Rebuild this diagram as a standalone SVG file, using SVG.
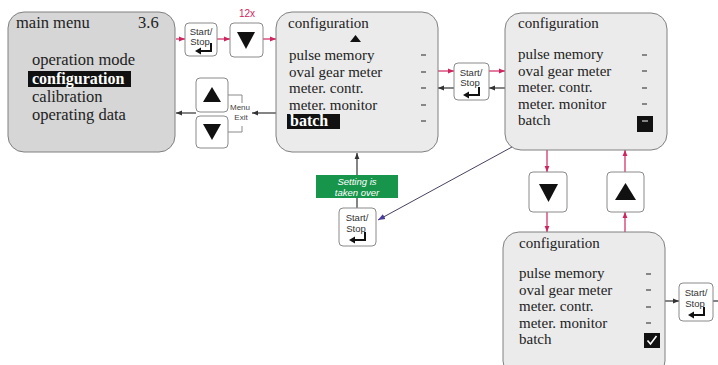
<svg xmlns="http://www.w3.org/2000/svg" xmlns:xlink="http://www.w3.org/1999/xlink" width="718" height="365" viewBox="0 0 718 365">
<style>
.main{fill:#d6d6d6;stroke:#808080;stroke-width:1}
.cfg{fill:#ebebeb;stroke:#808080;stroke-width:1}
.btn{fill:#ffffff;stroke:#8a8a8a;stroke-width:1}
.t{font-family:"Liberation Serif","Times New Roman",serif;font-size:15px;fill:#222}
.tm{font-family:"Liberation Serif","Times New Roman",serif;font-size:16.5px;fill:#222}
.tb{font-family:"Liberation Serif","Times New Roman",serif;font-size:16px;font-weight:bold;fill:#fff}
.bt{font-family:"Liberation Sans",Arial,sans-serif;font-size:9.5px;fill:#333;text-anchor:middle}
.me{font-family:"Liberation Sans",Arial,sans-serif;font-size:8px;fill:#444;text-anchor:middle}
.gt{font-family:"Liberation Sans",Arial,sans-serif;font-size:9.5px;font-style:italic;fill:#fff;text-anchor:middle}
.red{stroke:#d0245e;stroke-width:1.2;fill:none}
.blk{stroke:#333;stroke-width:1.2;fill:none}
.pur{stroke:#4a4060;stroke-width:1;fill:none}
.brk{stroke:#8a8a8a;stroke-width:1;fill:none}
.dash{stroke:#444;stroke-width:1.2}
</style>
<defs>
<marker id="ar" viewBox="0 0 10 10" refX="10" refY="5" markerWidth="6" markerHeight="6" orient="auto" markerUnits="userSpaceOnUse"><path d="M0,1 L10,5 L0,9 z" fill="#d0245e"/></marker>
<marker id="ab" viewBox="0 0 10 10" refX="10" refY="5" markerWidth="6" markerHeight="6" orient="auto" markerUnits="userSpaceOnUse"><path d="M0,1 L10,5 L0,9 z" fill="#333"/></marker>
<marker id="ap" viewBox="0 0 10 10" refX="10" refY="5" markerWidth="7" markerHeight="7" orient="auto" markerUnits="userSpaceOnUse"><path d="M0,1 L10,5 L0,9 z" fill="#4a3a9a"/></marker>
<g id="enter"><path d="M16,0 V8 H4" stroke="#111" stroke-width="2" fill="none"/><path d="M0,8 L6,4.5 L6,11.5 z" fill="#111"/></g>
</defs>

<g id="connectors">
<line class="red" x1="176" y1="39" x2="185" y2="39" marker-end="url(#ar)"/>
<line class="red" x1="217" y1="39" x2="230" y2="39" marker-end="url(#ar)"/>
<line class="red" x1="263" y1="39" x2="276" y2="39" marker-end="url(#ar)"/>
<line class="red" x1="438" y1="71" x2="454" y2="71" marker-end="url(#ar)"/>
<line class="red" x1="489" y1="71" x2="505" y2="71" marker-end="url(#ar)"/>
<line class="blk" x1="505" y1="88" x2="489" y2="88" marker-end="url(#ab)"/>
<line class="blk" x1="454" y1="88" x2="438" y2="88" marker-end="url(#ab)"/>
<line class="blk" x1="276" y1="113" x2="252" y2="113" marker-end="url(#ab)"/>
<line class="blk" x1="196" y1="113" x2="176" y2="113" marker-end="url(#ab)"/>
<path class="brk" d="M228,95 H242 V103 M228,132 H242 V126"/>
<line class="blk" x1="357" y1="208" x2="357" y2="153" marker-end="url(#ab)"/>
<line class="pur" x1="512" y1="147" x2="378" y2="220" marker-end="url(#ap)"/>
<line class="red" x1="547" y1="150" x2="547" y2="172" marker-end="url(#ar)"/>
<line class="red" x1="547" y1="212" x2="547" y2="232" marker-end="url(#ar)"/>
<line class="red" x1="625" y1="232" x2="625" y2="212" marker-end="url(#ar)"/>
<line class="red" x1="625" y1="172" x2="625" y2="150" marker-end="url(#ar)"/>
<line class="blk" x1="665" y1="301" x2="679" y2="301" marker-end="url(#ab)"/>
<line class="blk" x1="713" y1="301" x2="718" y2="301"/>
</g>

<g id="main-menu">
<rect class="main" x="8" y="12" width="167" height="140" rx="16"/>
<text class="tm" x="16" y="28">main menu</text>
<text class="tm" x="138" y="28">3.6</text>
<text class="tm" x="32" y="65">operation mode</text>
<rect x="28" y="71" width="103" height="16" fill="#111"/>
<text class="tb" x="32" y="84">configuration</text>
<text class="tm" x="32" y="102">calibration</text>
<text class="tm" x="32" y="120">operating data</text>
</g>

<g id="label-12x"><text x="247" y="17" font-family="Liberation Sans, Arial, sans-serif" font-size="10" fill="#d0245e" text-anchor="middle">12x</text></g>

<g id="btn-startstop-1">
<rect class="btn" x="185" y="23" width="32" height="33" rx="4"/>
<text class="bt" x="201" y="35">Start/</text>
<text class="bt" x="200" y="45">Stop</text>
<use xlink:href="#enter" x="195" y="43"/>
</g>

<g id="btn-down-1">
<rect class="btn" x="230" y="23" width="33" height="34" rx="4"/>
<path d="M237,32 H255 L246,49 z" fill="#111"/>
</g>

<g id="btn-up-left">
<rect class="btn" x="196" y="78" width="32" height="34" rx="4"/>
<path d="M203,102 H221 L212,87 z" fill="#111"/>
</g>
<g id="btn-down-left">
<rect class="btn" x="196" y="116" width="32" height="32" rx="4"/>
<path d="M203,124 H221 L212,140 z" fill="#111"/>
</g>
<g id="label-menu-exit">
<text class="me" x="240" y="110">Menu</text>
<text class="me" x="241" y="120">Exit</text>
</g>

<g id="config-1">
<rect class="cfg" x="276" y="12" width="162" height="140" rx="16"/>
<text class="t" x="288" y="28">configuration</text>
<path d="M350,42 H361 L355.5,35 z" fill="#111"/>
<text class="t" x="289" y="60">pulse memory</text>
<text class="t" x="289" y="76.5">oval gear meter</text>
<text class="t" x="289" y="93">meter. contr.</text>
<text class="t" x="289" y="109.5">meter. monitor</text>
<rect x="287" y="114" width="53" height="15" fill="#111"/>
<text class="tb" x="290" y="126">batch</text>
<g class="dash"><line x1="421" y1="55" x2="426" y2="55"/><line x1="421" y1="72" x2="426" y2="72"/><line x1="421" y1="88" x2="426" y2="88"/><line x1="421" y1="105" x2="426" y2="105"/><line x1="421" y1="121" x2="426" y2="121"/></g>
</g>

<g id="btn-startstop-2">
<rect class="btn" x="454" y="63" width="35" height="37" rx="4"/>
<text class="bt" x="471" y="76">Start/</text>
<text class="bt" x="470" y="86">Stop</text>
<use xlink:href="#enter" x="463" y="87"/>
</g>

<g id="config-2">
<rect class="cfg" x="505" y="13" width="162" height="137" rx="16"/>
<text class="t" x="518" y="28">configuration</text>
<text class="t" x="518" y="59">pulse memory</text>
<text class="t" x="518" y="75.5">oval gear meter</text>
<text class="t" x="518" y="92">meter. contr.</text>
<text class="t" x="518" y="108.5">meter. monitor</text>
<text class="t" x="518" y="125">batch</text>
<g class="dash"><line x1="642" y1="55" x2="647" y2="55"/><line x1="642" y1="71" x2="647" y2="71"/><line x1="642" y1="88" x2="647" y2="88"/><line x1="642" y1="104" x2="647" y2="104"/></g>
<rect x="637" y="116" width="16" height="16" fill="#111"/>
<line x1="642" y1="121" x2="648" y2="121" stroke="#aaa" stroke-width="1.5"/>
</g>

<g id="setting-taken-over">
<rect x="316" y="175" width="82" height="23" fill="#17954a"/>
<text class="gt" x="357" y="185">Setting is</text>
<text class="gt" x="357" y="196">taken over</text>
</g>

<g id="btn-startstop-3">
<rect class="btn" x="339" y="208" width="37" height="38" rx="4"/>
<text class="bt" x="357" y="221">Start/</text>
<text class="bt" x="356" y="232">Stop</text>
<use xlink:href="#enter" x="349" y="232"/>
</g>

<g id="btn-down-right">
<rect class="btn" x="529" y="172" width="38" height="40" rx="4"/>
<path d="M539,184 H558 L548.5,202 z" fill="#111"/>
</g>
<g id="btn-up-right">
<rect class="btn" x="607" y="172" width="37" height="40" rx="4"/>
<path d="M615,200 H636 L625.5,183 z" fill="#111"/>
</g>

<g id="config-3">
<rect class="cfg" x="503" y="232" width="162" height="145" rx="16"/>
<text class="t" x="519" y="248">configuration</text>
<text class="t" x="519" y="278">pulse memory</text>
<text class="t" x="519" y="294.5">oval gear meter</text>
<text class="t" x="519" y="311">meter. contr.</text>
<text class="t" x="519" y="327.5">meter. monitor</text>
<text class="t" x="519" y="344">batch</text>
<g class="dash"><line x1="646" y1="274" x2="651" y2="274"/><line x1="646" y1="290" x2="651" y2="290"/><line x1="646" y1="307" x2="651" y2="307"/><line x1="646" y1="323" x2="651" y2="323"/></g>
<rect x="644" y="333" width="16" height="15" fill="#111"/>
<path d="M647.5,340.5 L650.5,344 L656.5,336" stroke="#fff" stroke-width="1.6" fill="none"/>
</g>

<g id="btn-startstop-4">
<rect class="btn" x="679" y="283" width="34" height="38" rx="4"/>
<text class="bt" x="696" y="296">Start/</text>
<text class="bt" x="695" y="307">Stop</text>
<use xlink:href="#enter" x="688" y="307"/>
</g>
</svg>
